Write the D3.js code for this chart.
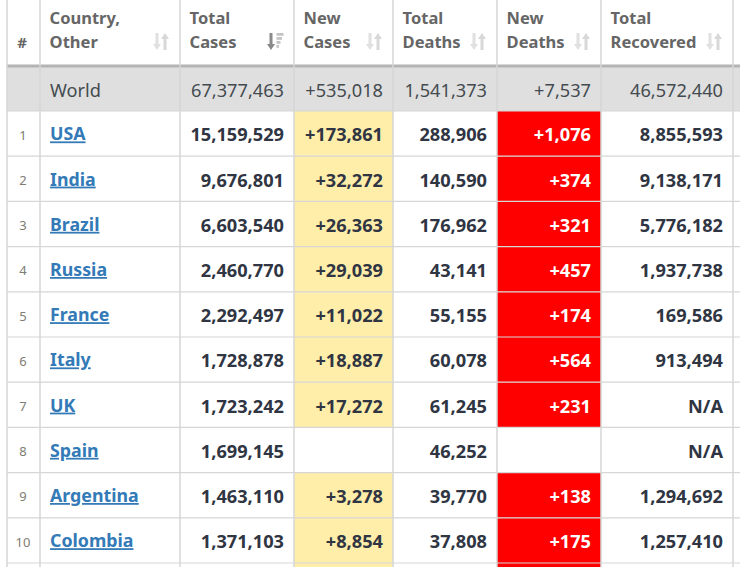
<!DOCTYPE html>
<html>
<head>
<meta charset="utf-8">
<script src="https://cdn.jsdelivr.net/npm/d3@7"></script>
<style>
  html, body { margin: 0; padding: 0; background: #fff; overflow: hidden; }
  svg { display: block; font-family: "Noto Sans", "Open Sans", sans-serif; }
</style>
</head>
<body>
<div id="root"></div>
<script>
const headers = [["#"], ["Country,", "Other"], ["Total", "Cases"], ["New", "Cases"], ["Total", "Deaths"], ["New", "Deaths"], ["Total", "Recovered"]];
const world = ["", "World", "67,377,463", "+535,018", "1,541,373", "+7,537", "46,572,440"];

const countries = ["USA", "India", "Brazil", "Russia", "France", "Italy", "UK", "Spain", "Argentina", "Colombia", ""];
const totalCases = ["15,159,529", "9,676,801", "6,603,540", "2,460,770", "2,292,497", "1,728,878", "1,723,242", "1,699,145", "1,463,110", "1,371,103", ""];
const newCases = ["+173,861", "+32,272", "+26,363", "+29,039", "+11,022", "+18,887", "+17,272", "", "+3,278", "+8,854", " "];
const totalDeaths = ["288,906", "140,590", "176,962", "43,141", "55,155", "60,078", "61,245", "46,252", "39,770", "37,808", ""];
const newDeaths = ["+1,076", "+374", "+321", "+457", "+174", "+564", "+231", "", "+138", "+175", " "];
const totalRecovered = ["8,855,593", "9,138,171", "5,776,182", "1,937,738", "169,586", "913,494", "N/A", "N/A", "1,294,692", "1,257,410", ""];

const width = 740, height = 567;
const colEdges = [7, 40, 180, 294, 393, 497, 601, 733];
const headerBottom = 66, worldBottom = 111, rowH = 45.2;
const gridColor = "#d6d6d6";

const svg = d3.select("#root").append("svg")
  .attr("width", width)
  .attr("height", height);

const x = i => colEdges[i];
const y = d3.scaleLinear().domain([0, 1]).range([worldBottom, worldBottom + rowH]);

// header
headers.forEach(function(lines, i) {
  if (i === 0) {
    svg.append("text").attr("x", 22).attr("y", 48)
      .attr("text-anchor", "middle")
      .attr("font-size", 15).attr("font-weight", 700).attr("fill", "#666")
      .text(lines[0]);
    return;
  }
  svg.selectAll(null).data(lines).join("text")
    .attr("x", x(i) + 9.6)
    .attr("y", (d, k) => 24 + k * 23.5)
    .attr("font-size", 16.5).attr("font-weight", 700).attr("fill", "#666")
    .text(d => d);
  sortIcon(x(i + 1) - 27, 33, i === 2);
});

function sortIcon(ix, iy, active) {
  const g = svg.append("g").attr("transform", `translate(${ix},${iy})`);
  const arrow = (cx, up, color) => {
    const tip = up ? 0 : 17, base = up ? 6 : 11;
    g.append("path")
      .attr("d", `M${cx - 4},${base}L${cx},${tip}L${cx + 4},${base}Z`)
      .attr("fill", color);
    g.append("rect")
      .attr("x", cx - 1.5).attr("y", up ? 5 : 0)
      .attr("width", 3).attr("height", 12)
      .attr("fill", color);
  };
  if (active) {
    arrow(4, false, "#8a8a8a");
    [7, 5.5, 4, 2.5].forEach(function(w, k) {
      g.append("rect").attr("x", 9.5).attr("y", k * 4)
        .attr("width", w).attr("height", 2.8).attr("fill", "#c4c4c4");
    });
  } else {
    arrow(4, false, "#e0e0e0");
    arrow(12, true, "#d8d8d8");
  }
}

// world row
svg.append("rect").attr("x", x(0)).attr("y", headerBottom)
  .attr("width", width - x(0)).attr("height", worldBottom - headerBottom)
  .attr("fill", "#dfdfdf");
svg.append("rect").attr("x", x(0)).attr("y", headerBottom - 1.5)
  .attr("width", width - x(0)).attr("height", 3)
  .attr("fill", "#b4b4b4");

world.forEach(function(v, i) {
  if (!v) return;
  svg.append("text")
    .attr("x", i === 1 ? x(i) + 10 : x(i + 1) - 10)
    .attr("y", 96.5)
    .attr("text-anchor", i === 1 ? "start" : "end")
    .attr("font-size", 18.2).attr("fill", "#444b50")
    .text(v);
});

// coloured cells
svg.selectAll("rect.newc").data(newCases).join("rect")
  .attr("class", "newc")
  .attr("x", x(3)).attr("y", (d, i) => y(i))
  .attr("width", x(4) - x(3)).attr("height", rowH)
  .attr("fill", d => d ? "#ffeeaa" : "none");
svg.selectAll("rect.newd").data(newDeaths).join("rect")
  .attr("class", "newd")
  .attr("x", x(5)).attr("y", (d, i) => y(i))
  .attr("width", x(6) - x(5)).attr("height", rowH)
  .attr("fill", d => d ? "#ff0000" : "none");

// grid
colEdges.forEach(function(e) {
  svg.append("line").attr("x1", e).attr("x2", e).attr("y1", 0).attr("y2", height)
    .attr("stroke", gridColor).attr("stroke-width", 1.5);
});
d3.range(0, 11).forEach(function(i) {
  svg.append("line").attr("x1", x(0)).attr("x2", width)
    .attr("y1", y(i)).attr("y2", y(i))
    .attr("stroke", gridColor).attr("stroke-width", 1.2);
});

// rows
countries.forEach(function(c, i) {
  const base = y(i) + 30.3;
  if (c) {
    svg.append("text").attr("x", 23).attr("y", base - 1.5)
      .attr("text-anchor", "middle")
      .attr("font-size", 13).attr("fill", "#7d7d72")
      .text(i + 1);
    svg.append("text").attr("x", x(1) + 10).attr("y", base - 0.9)
      .attr("font-size", 17.8).attr("font-weight", 700).attr("fill", "#337ab7")
      .attr("text-decoration", "underline")
      .text(c);
  }
  [totalCases, newCases, totalDeaths, newDeaths, totalRecovered].forEach(function(col, k) {
    svg.append("text")
      .attr("x", x(k + 3) - 10)
      .attr("y", base)
      .attr("text-anchor", "end")
      .attr("font-size", 18.2).attr("font-weight", 700)
      .attr("fill", col === newDeaths ? "#fff" : "#2f3542")
      .text(col[i]);
  });
});
</script>
</body>
</html>
